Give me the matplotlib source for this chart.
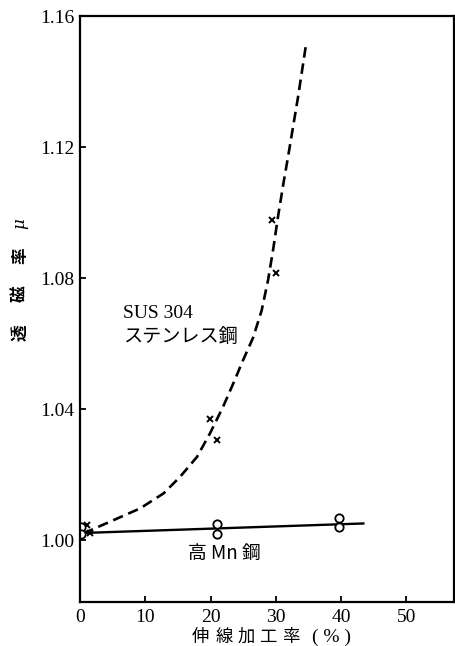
import matplotlib
matplotlib.use("Agg")
import matplotlib.pyplot as plt

# curve (SUS 304, dashed)
sus_curve_x = [0.5, 1.0, 5.1, 9.2, 12.8, 15.3, 17.9, 19.9, 21.9, 23.7, 24.8, 26.5, 27.8,
               28.8, 29.6, 30.3, 31.2, 31.9, 33.4, 34.6]
sus_curve_y = [1.0020, 1.0025, 1.0061, 1.0097, 1.0143, 1.0193, 1.0254, 1.0326, 1.0407, 1.0489,
               1.0542, 1.0618, 1.0700, 1.0794, 1.0890, 1.0985, 1.1095, 1.1175, 1.1354, 1.1511]

# measured points SUS 304 (x markers)
sus_pts_x = [1.0, 1.5, 19.9, 21.0, 29.4, 30.0]
sus_pts_y = [1.0046, 1.0022, 1.0370, 1.0306, 1.0977, 1.0816]

# high Mn steel line and points (circles)
mn_line_x = [0.5, 43.4]
mn_line_y = [1.0022, 1.0051]
mn_pts_x = [0.1, 0.1, 21.0, 21.0, 39.7, 39.7]
mn_pts_y = [1.0040, 1.0018, 1.0049, 1.0020, 1.0069, 1.0041]

x_ticks = [0, 10, 20, 30, 40, 50]
y_ticks = [1.00, 1.04, 1.08, 1.12, 1.16]

serif = ["Liberation Serif", "Noto Sans CJK JP"]
jp = ["Noto Sans CJK JP", "Liberation Serif"]

W, H = 455, 646

fig = plt.figure(figsize=(4.55, 6.46), dpi=100)
ax = fig.add_axes([0.176, 0.068, 0.822, 0.907])

ax.plot(sus_curve_x, sus_curve_y, color="black", linestyle=(0, (4, 2.2)), linewidth=1.9)
ax.plot(mn_line_x, mn_line_y, color="black", linewidth=1.7)
ax.plot(sus_pts_x, sus_pts_y, linestyle="none", marker="x", color="black",
        markersize=4.5, markeredgewidth=1.4)
ax.plot(mn_pts_x, mn_pts_y, linestyle="none", marker="o", markerfacecolor="white",
        markeredgecolor="black", markersize=6, markeredgewidth=1.3)

ax.set_xlim(0, 57.3)
ax.set_ylim(0.9811, 1.16)
ax.set_xticks(x_ticks)
ax.set_yticks(y_ticks)
ax.set_xticklabels([str(v) for v in x_ticks], family=serif, fontsize=14)
ax.set_yticklabels([f"{v:.2f}" for v in y_ticks], family=serif, fontsize=14)
ax.tick_params(direction="in", length=4, width=1.3)
ax.tick_params(axis="x", pad=5)
ax.tick_params(axis="y", pad=4)
for s in ax.spines.values():
    s.set_linewidth(1.6)

ax.text(6.6, 1.0693, "SUS 304", family=serif, fontsize=14, va="center", ha="left")
ax.text(6.6, 1.0621, "ステンレス鋼", family=jp, fontsize=13.8, va="center", ha="left")
ax.text(22.05, 0.9960, "高 Mn 鋼", family=jp, fontsize=13.5, va="center", ha="center")

# y label, one character at a time (wide letter spacing)
for ch, py in [("透", 333), ("磁", 294), ("率", 256)]:
    fig.text(20 / W, 1 - py / H, ch, family=jp, fontsize=12, fontweight="bold",
             rotation=90, va="center", ha="center")
fig.text(20 / W, 1 - 224 / H, "μ", family=["DejaVu Serif"], style="italic",
         fontsize=12, rotation=90, va="center", ha="center")

# x label
for ch, px in [("伸", 200), ("線", 224), ("加", 246), ("工", 268), ("率", 291)]:
    fig.text(px / W, 1 - 637 / H, ch, family=jp, fontsize=12.5, va="center", ha="center")
fig.text(331 / W, 1 - 637 / H, "( % )", family=serif, fontsize=14, va="center", ha="center")

fig.savefig("out.png", dpi=100)
